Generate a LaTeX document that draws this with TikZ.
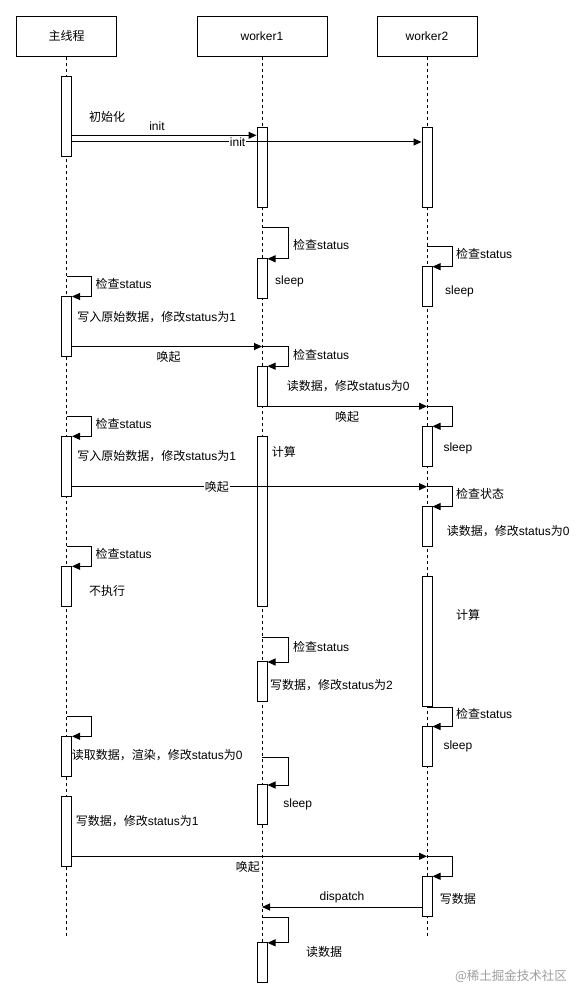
\documentclass[tikz,border=0pt]{standalone}
\usepackage{fontspec}
\setmainfont{Liberation Sans}
\newfontfamily\cjk{Noto Sans CJK SC}
\usetikzlibrary{arrows.meta,calc}
\newcommand\fsz{\fontsize{12}{14}\selectfont}
\begin{document}
\begin{tikzpicture}[x=1pt,y=-1pt,
 head/.style={draw, line width=1pt, minimum height=40pt, font=\fsz, inner sep=0},
 actbox/.style={draw, fill=white, line width=1pt, minimum width=10pt, inner sep=0},
 life/.style={line width=0.8pt, dash pattern=on 3pt off 3pt},
 msg/.style={line width=1pt, -{Triangle[length=8pt,width=7pt]}},
 lbl/.style={font=\fsz, inner sep=0, anchor=west},
 clbl/.style={font=\fsz, inner sep=0},
]
\useasboundingbox (0,0) rectangle (584,1003);
% heads
\node[head, minimum width=100pt] (H0) at (66.5,36.2) {{\cjk 主线程}};
\node[head, minimum width=130pt] (H1) at (262,36.2) {worker1};
\node[head, minimum width=100pt] (H2) at (427,36.2) {worker2};
% lifelines
\coordinate (E0) at (66.5,935.7);
\coordinate (E1) at (262,982);
\coordinate (E2) at (427,935.7);
\draw[life] (H0.south) -- (E0);
\draw[life] (H1.south) -- (E1);
\draw[life] (H2.south) -- (E2);
% activations
\node[actbox, minimum height=80pt] (M1) at (66.5,116.3) {};
\node[actbox, minimum height=80pt] (W1a) at (262,167.3) {};
\node[actbox, minimum height=80pt] (W2a) at (427,167.3) {};
\node[actbox, minimum height=40pt] (W1b) at (262,278.3) {};
\node[actbox, minimum height=40pt] (W2b) at (427,286.7) {};
\node[actbox, minimum height=60pt] (M2) at (66.5,326.5) {};
\node[actbox, minimum height=40pt] (W1c) at (262,386.2) {};
\node[actbox, minimum height=40pt] (W2c) at (427,446.3) {};
\node[actbox, minimum height=60pt] (M3) at (66.5,466.3) {};
\node[actbox, minimum height=170pt] (W1d) at (262,521.3) {};
\node[actbox, minimum height=40pt] (W2d) at (427,526.6) {};
\node[actbox, minimum height=40pt] (M4) at (66.5,586.3) {};
\node[actbox, minimum height=130pt] (W2e) at (427,641.5) {};
\node[actbox, minimum height=40pt] (W1e) at (262,681.5) {};
\node[actbox, minimum height=40pt] (W2f) at (427,746.5) {};
\node[actbox, minimum height=40pt] (M5) at (66.5,756.3) {};
\node[actbox, minimum height=40pt] (W1f) at (262,804.5) {};
\node[actbox, minimum height=70pt] (M6) at (66.5,831.3) {};
\node[actbox, minimum height=40pt] (W2g) at (427,896.3) {};
\node[actbox, minimum height=40pt] (W1g) at (262,962.3) {};
% helper y levels
\coordinate (ya1) at (0,135.3);
\coordinate (ya2) at (0,142);
\coordinate (s1) at (262,227.3);
\coordinate (s2) at (427,246.7);
\coordinate (s3) at (66.5,276.7);
\coordinate (s4) at (262,346.5);
\coordinate (s5) at (427,406.3);
\coordinate (s6) at (66.5,416.3);
\coordinate (s7) at (427,486.7);
\coordinate (s8) at (66.5,546.3);
\coordinate (s9) at (262,637.3);
\coordinate (s11) at (66.5,716.7);
\coordinate (s12) at (262,757);
\coordinate (s13) at (427,856.3);
\coordinate (s14) at (262,917.3);
\coordinate (d1) at (262,907);
% self loops
\draw[msg] (s1) -- ++(26.8,0) |- ($(W1b.north east)+(0,1)$);
\draw[msg] (s2) -- ++(25.6,0) |- ($(W2b.north east)+(0,0.5)$);
\draw[msg] (s3) -- ++(25,0) |- ($(M2.north east)+(0,0.5)$);
\draw[msg] (s4) -- ++(26.8,0) |- ($(W1c.north east)+(0,0.5)$);
\draw[msg] (s5) -- ++(25.6,0) |- ($(W2c.north east)+(0,0.5)$);
\draw[msg] (s6) -- ++(25,0) |- ($(M3.north east)+(0,0.5)$);
\draw[msg] (s7) -- ++(25.6,0) |- ($(W2d.north east)+(0,0.5)$);
\draw[msg] (s8) -- ++(25,0) |- ($(M4.north east)+(0,0.5)$);
\draw[msg] (s9) -- ++(26.8,0) |- ($(W1e.north east)+(0,1)$);
\draw[msg] (W2e.south) -- ++(25.6,0) |- ($(W2f.north east)+(0,0.5)$);
\draw[msg] (s11) -- ++(25,0) |- ($(M5.north east)+(0,0.5)$);
\draw[msg] (s12) -- ++(26.8,0) |- ($(W1f.north east)+(0,1)$);
\draw[msg] (s13) -- ++(25.6,0) |- ($(W2g.north east)+(0,0.5)$);
\draw[msg] (s14) -- ++(26.8,0) |- ($(W1g.north east)+(0,1)$);
% messages
\draw[msg] (M1.east |- ya1) -- (W1a.west |- ya1);
\draw[msg] (M1.east |- ya2) -- (W2a.west |- ya2)
  node[clbl, fill=white, inner sep=1pt, pos=0.474] (tinit2) {init};
\draw[msg] (M2.east |- s4) -- (s4);
\draw[msg] (W1c.east |- s5) -- (s5);
\draw[msg] (M3.east |- s7) -- (s7)
  node[clbl, fill=white, inner sep=1pt, pos=0.408] (twake3) {\cjk 唤起};
\draw[msg] (M6.east |- s13) -- (s13);
\draw[msg] (W2g.west |- d1) -- (d1);
% labels
\node[lbl] (t1) at (89,116.7) {\cjk 初始化};
\node[clbl] (tinit1) at (157,126) {init};
\node[lbl] (t2) at (293,244.7) {{\cjk 检查}status};
\node[lbl] (t3) at (275,281) {sleep};
\node[lbl] (t4) at (456,253.7) {{\cjk 检查}status};
\node[lbl] (t5) at (445,291) {sleep};
\node[lbl] (t6) at (95.5,283.7) {{\cjk 检查}status};
\node[lbl] (t7) at (77.2,316.7) {{\cjk 写入原始数据，修改}status{\cjk 为}1};
\node[clbl] (t8) at (168.7,356.7) {\cjk 唤起};
\node[lbl] (t9) at (293,354.7) {{\cjk 检查}status};
\node[lbl] (t10) at (286.6,386) {{\cjk 读数据，修改}status{\cjk 为}0};
\node[clbl] (t11) at (347,416.7) {\cjk 唤起};
\node[lbl] (t12) at (443.3,448.3) {sleep};
\node[lbl] (t13) at (95.5,424) {{\cjk 检查}status};
\node[lbl] (t14) at (77.2,456) {{\cjk 写入原始数据，修改}status{\cjk 为}1};
\node[lbl] (t15) at (271.6,451.7) {\cjk 计算};
\node[lbl] (t16) at (456,494) {\cjk 检查状态};
\node[lbl] (t17) at (446.6,531) {{\cjk 读数据，修改}status{\cjk 为}0};
\node[lbl] (t18) at (95.5,554) {{\cjk 检查}status};
\node[lbl] (t19) at (88.8,590.7) {\cjk 不执行};
\node[lbl] (t20) at (456,615) {\cjk 计算};
\node[lbl] (t21) at (293,646.7) {{\cjk 检查}status};
\node[lbl] (t22) at (270,685) {{\cjk 写数据，修改}status{\cjk 为}2};
\node[lbl] (t23) at (456,713.7) {{\cjk 检查}status};
\node[lbl] (t24) at (443.3,746) {sleep};
\node[lbl] (t25) at (71.6,755) {{\cjk 读取数据，渲染，修改}status{\cjk 为}0};
\node[lbl] (t26) at (283.2,804.3) {sleep};
\node[lbl] (t27) at (75.7,821) {{\cjk 写数据，修改}status{\cjk 为}1};
\node[clbl, anchor=east] (t28) at (260,866.7) {\cjk 唤起};
\node[lbl] (t29) at (439.6,899.3) {\cjk 写数据};
\node[clbl] (t30) at (342,897.7) {dispatch};
\node[lbl] (t31) at (306,952) {\cjk 读数据};
\node[font=\fontsize{12.5}{15}\selectfont\cjk, text=black!38, inner sep=0] (wm) at (511,976.7) {@稀土掘金技术社区};
\end{tikzpicture}
\end{document}
